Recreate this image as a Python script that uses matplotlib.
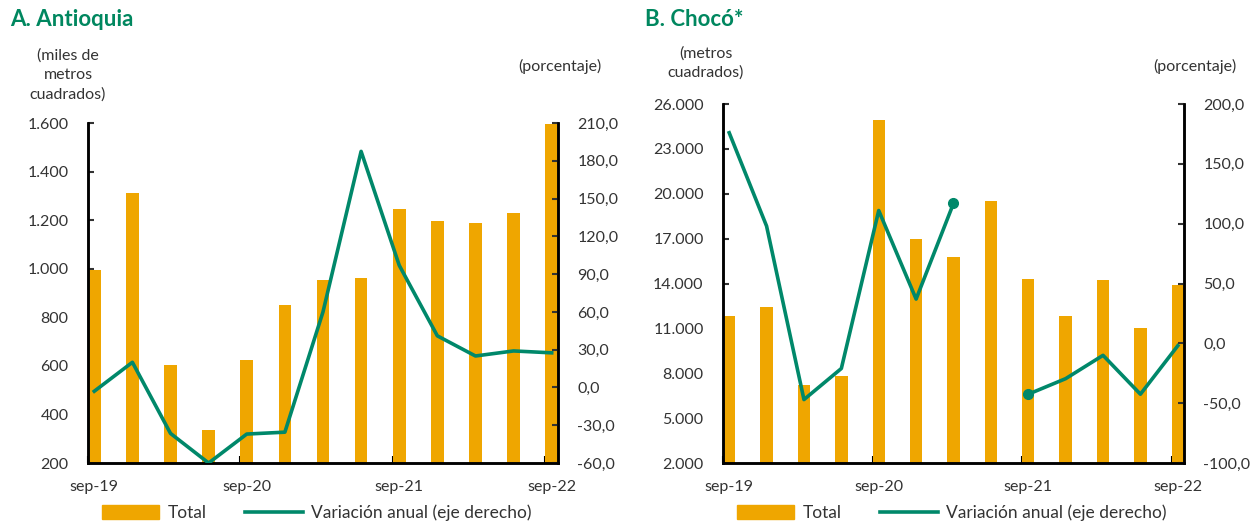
import matplotlib.pyplot as plt
from matplotlib.ticker import FuncFormatter
from matplotlib.lines import Line2D
from matplotlib.patches import Patch
import numpy as np

plt.rcParams['font.family'] = ['Lato', 'DejaVu Sans']

quarters = ['sep-19', 'dic-19', 'mar-20', 'jun-20', 'sep-20', 'dic-20', 'mar-21',
            'jun-21', 'sep-21', 'dic-21', 'mar-22', 'jun-22', 'sep-22']
tick_labels = ['sep-19', 'sep-20', 'sep-21', 'sep-22']

# A. Antioquia (miles de m2, variacion %)
antioquia_total = [995, 1310, 605, 335, 625, 850, 955, 962, 1245, 1195, 1190, 1228, 1595]
antioquia_var = [-3, 20, -36.5, -60, -37, -35.5, 60, 187.5, 97, 41, 25, 29, 27.5]

# B. Choco (m2, variacion %)
choco_total = [11800, 12450, 7200, 7800, 24950, 17000, 15800, 19550, 14300, 11800,
               14250, 11050, 13900]
choco_var = [176, 98, -47, -21, 111, 37, 117, np.nan, -42.5, -29.5, -10, -42.5, -2]

BAR = '#EFA600'
LINE = '#00886A'
TITLE = '#00875F'
W = 0.33


def thousands(v, pos):
    return f'{v:,.0f}'.replace(',', '.')


def onedec(v, pos):
    return f'{v:.1f}'.replace('.', ',')


def panel(ax, total, var, ylim, ystep, y2lim, y2step, mark=None):
    x = np.arange(len(total))
    ax.bar(x, total, width=W, color=BAR, zorder=2)
    ax.set_ylim(*ylim)
    ax.set_yticks(np.arange(ylim[0], ylim[1] + 1, ystep))
    ax.yaxis.set_major_formatter(FuncFormatter(thousands))
    ax.set_xlim(-W / 2, len(total) - 1 + W / 2)
    idx = [quarters.index(t) for t in tick_labels]
    ax.set_xticks(idx)
    ax.set_xticklabels(tick_labels)
    ax.set_xticks([i - W / 2 for i in idx], minor=True)
    ax.tick_params(axis='x', which='major', length=0, pad=12)
    ax.tick_params(axis='x', which='minor', direction='in', length=5, width=1.5)
    ax.tick_params(axis='y', direction='in', length=4, width=1.5, pad=14)
    ax.tick_params(labelsize=11.5, colors='#333333')
    ax.spines['top'].set_visible(False)
    for s in ['left', 'bottom', 'right']:
        ax.spines[s].set_linewidth(1.8)

    ax2 = ax.twinx()
    ax2.plot(x, var, color=LINE, lw=2.6, zorder=3,
             marker='o' if mark else None, markevery=mark, markersize=7)
    ax2.set_ylim(*y2lim)
    ax2.set_yticks(np.arange(y2lim[0], y2lim[1] + 1, y2step))
    ax2.yaxis.set_major_formatter(FuncFormatter(onedec))
    ax2.tick_params(axis='y', direction='in', length=4, width=1.5, pad=14,
                    labelsize=11.5, colors='#333333')
    ax2.spines['top'].set_visible(False)
    for s in ['left', 'bottom', 'right']:
        ax2.spines[s].set_linewidth(1.8)
    for lab in ax.get_yticklabels() + ax2.get_yticklabels() + ax.get_xticklabels():
        lab.set_color('#333333')
    return ax2


fig = plt.figure(figsize=(12.57, 5.22), dpi=100)

ax1 = fig.add_axes([0.0700, 0.1130, 0.3739, 0.6513])
panel(ax1, antioquia_total, antioquia_var, (200, 1600), 200, (-60, 210), 30)

ax3 = fig.add_axes([0.5752, 0.1130, 0.3667, 0.6877])
panel(ax3, choco_total, choco_var, (2000, 26000), 3000, (-100, 200), 50, mark=[6, 8])

fig.text(10 / 1257, 1 - 20 / 522, 'A. Antioquia', color=TITLE, fontsize=16,
         fontweight='bold', va='center', ha='left')
fig.text(645 / 1257, 1 - 20 / 522, 'B. Chocó*', color=TITLE, fontsize=16,
         fontweight='bold', va='center', ha='left')

fig.text(68 / 1257, 1 - 75 / 522, '(miles de\nmetros\ncuadrados)', ha='center',
         va='center', fontsize=11.5, color='#333333', linespacing=1.45)
fig.text(560 / 1257, 1 - 66 / 522, '(porcentaje)', ha='center', va='center',
         fontsize=11.5, color='#333333')
fig.text(706 / 1257, 1 - 63 / 522, '(metros\ncuadrados)', ha='center',
         va='center', fontsize=11.5, color='#333333', linespacing=1.45)
fig.text(1195 / 1257, 1 - 66 / 522, '(porcentaje)', ha='center', va='center',
         fontsize=11.5, color='#333333')

handles = [Patch(color=BAR), Line2D([], [], color=LINE, lw=2.6)]
labels = ['Total', 'Variación anual (eje derecho)']
for cx in [317 / 1257, 952 / 1257]:
    fig.legend(handles, labels, loc='center', bbox_to_anchor=(cx, 9 / 522), ncol=2,
               frameon=False, fontsize=12.5, handlelength=3.3, handleheight=0.9,
               columnspacing=2.2, handletextpad=0.5, labelcolor='#333333')

fig.savefig('out.png', dpi=100)
